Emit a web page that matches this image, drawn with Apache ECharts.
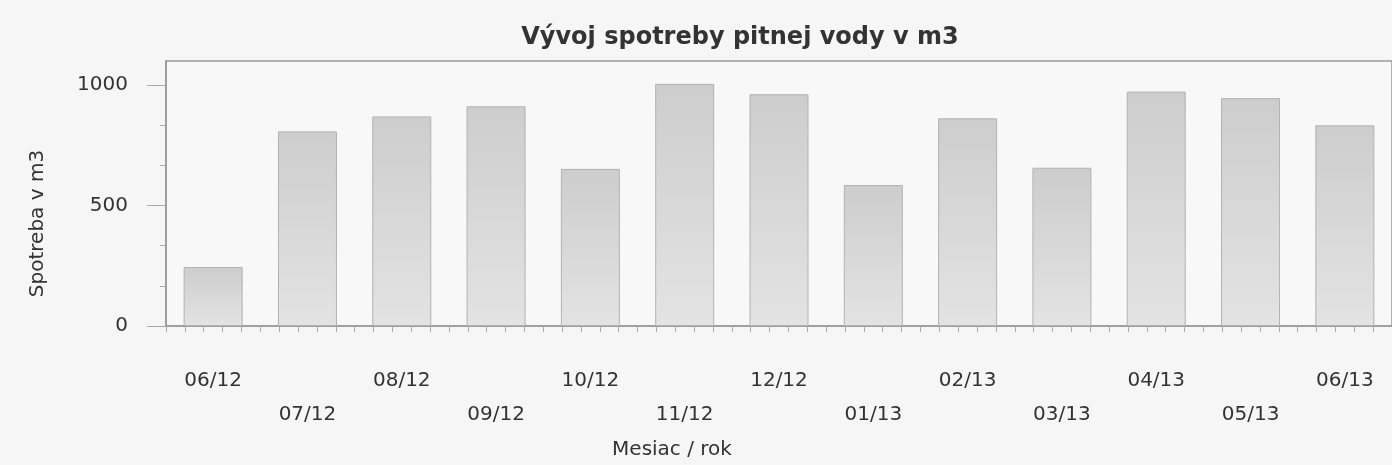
<!DOCTYPE html>
<html><head><meta charset="utf-8">
<script src="https://cdn.jsdelivr.net/npm/echarts@6/dist/echarts.min.js"></script>
<style>html,body{margin:0;padding:0;background:#f6f6f6}#c{width:1392px;height:465px}</style>
</head><body><div id="c"></div>
<script>
const titleText = 'Vývoj spotreby pitnej vody v m3';
const yName = 'Spotreba v m3';
const xName = 'Mesiac / rok';
const categories = ['06/12','07/12','08/12','09/12','10/12','11/12','12/12','01/13','02/13','03/13','04/13','05/13','06/13'];
const values = [245, 808, 870, 912, 652, 1005, 962, 585, 862, 657, 973, 946, 833];
const yTicks = [0, 500, 1000];

const txt = '#333333';
const font = 'DejaVu Sans';
const chart = echarts.init(document.getElementById('c'));
chart.setOption({
  backgroundColor: '#f6f6f6',
  animation: false,
  title: {
    text: titleText, left: 735, top: 21, textAlign: 'center',
    textStyle: {fontFamily: font, fontWeight: 'bold', fontSize: 24, color: txt}
  },
  grid: {left: 166, top: 61, right: -9, bottom: 137, show: true, borderColor: '#9a9a9a', borderWidth: 1.5, backgroundColor: '#f8f8f8'},
  xAxis: [{
    type: 'category', data: categories,
    name: xName, nameLocation: 'middle', nameGap: 114,
    nameTextStyle: {fontFamily: font, fontSize: 20, color: txt, padding: [0, 214, 0, 0]},
    axisLine: {lineStyle: {color: '#999', width: 1.5}},
    axisTick: {alignWithLabel: true, length: 14, lineStyle: {color: '#aaa'}},
    axisLabel: {
      interval: 0, margin: 38, fontFamily: font, fontSize: 20, color: txt, lineHeight: 34,
      formatter: (v, i) => (i % 2 ? '\n' + v : v)
    }
  }, {
    type: 'value', min: 0, max: 13, interval: 1, position: 'bottom',
    axisLine: {show: false}, axisLabel: {show: false}, splitLine: {show: false},
    axisTick: {show: true, inside: false, length: 6, lineStyle: {color: '#aaa'}},
    minorTick: {show: true, splitNumber: 5, length: 6, lineStyle: {color: '#aaa'}}
  }],
  yAxis: {
    type: 'value', min: 0, max: 1100, interval: 500,
    name: yName, nameLocation: 'middle', nameGap: 118, nameRotate: 90,
    nameTextStyle: {fontFamily: font, fontSize: 20, color: txt, padding: [0, 0, 0, -60]},
    axisLine: {show: true, lineStyle: {color: '#999', width: 1.5}},
    axisTick: {show: true, length: 19, customValues: yTicks, lineStyle: {color: '#aaa'}},
    minorTick: {show: true, splitNumber: 3, length: 6, lineStyle: {color: '#aaa'}},
    splitLine: {show: false},
    axisLabel: {customValues: yTicks, margin: 38, fontFamily: font, fontSize: 20, color: txt, formatter: v => String(v)}
  },
  series: [{
    type: 'bar', data: values, barWidth: 59, xAxisIndex: 0,
    itemStyle: {
      color: new echarts.graphic.LinearGradient(0, 0, 0, 1, [{offset: 0, color: '#cdcdcd'}, {offset: 1, color: '#e3e3e3'}]),
      borderColor: '#b2b2b2', borderWidth: 1
    }
  }]
});
</script></body></html>
